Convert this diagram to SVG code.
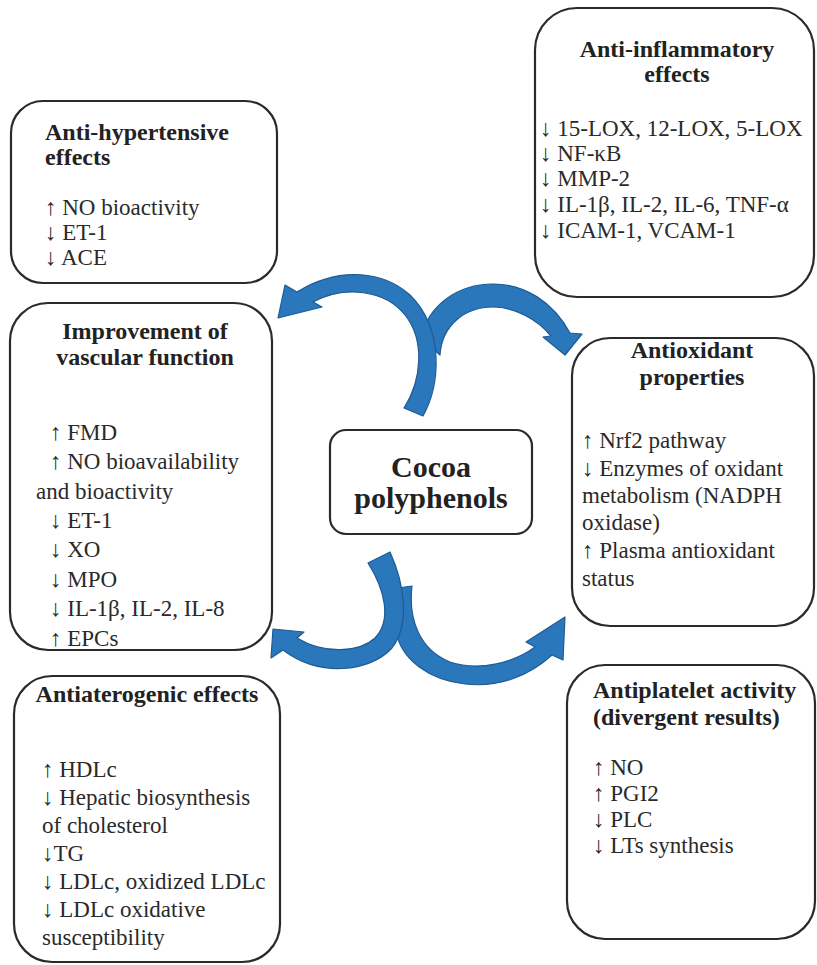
<svg xmlns="http://www.w3.org/2000/svg" width="817" height="965" viewBox="0 0 817 965">
<style>
.box{fill:#fff;stroke:#2a2a2a;stroke-width:2.2}
.t{font-family:"Liberation Serif","Times New Roman",serif;font-size:24px;font-weight:bold;fill:#222}
.b{font-family:"Liberation Serif","Times New Roman",serif;font-size:23px;fill:#2a2a2a}
.c{text-anchor:middle}
.arr{fill:#2a78bb;stroke:#1d5b95;stroke-width:1.2;stroke-linejoin:round}
</style>
<rect width="817" height="965" fill="#fff"/>
<g id="connectors">
<path class="arr" d="M 440,355 C 442,325 465,307 493,307 C 515,307 538,320 551,336 L 543,337 L 565,355 L 582,334 L 570,333 C 553,302 525,284 493,284 C 458,284 428,305 421,338 Z"/>
<path class="arr" d="M 404,408 L 423,416 C 440,385 445,330 410,295 C 385,272 340,265 297,292 L 285,285 L 278,318 L 322,307 L 313,302 C 345,285 385,290 405,315 C 425,340 422,380 404,408 Z"/>
<path class="arr" d="M 398,588 L 412,586 C 408,620 420,650 450,662 C 480,672 515,662 535,647 L 526,642 L 565,617 L 563,660 L 552,655 C 530,675 500,688 465,684 C 430,680 400,660 396,630 Z"/>
<path class="arr" d="M 368,563 L 390,552 C 405,585 410,625 392,648 C 370,672 320,678 283,650 L 271,658 L 273,629 L 304,632 L 297,638 C 325,655 360,652 375,638 C 392,620 385,590 368,563 Z"/>
</g>
<g id="anti-hypertensive">
<rect class="box" x="11" y="101" width="266" height="182" rx="32"/>
<text class="t" x="45" y="140">Anti-hypertensive</text>
<text class="t" x="45" y="165">effects</text>
<text class="b" x="45" y="215">↑ NO bioactivity</text>
<text class="b" x="45" y="240">↓ ET-1</text>
<text class="b" x="45" y="265">↓ ACE</text>
</g>
<g id="anti-inflammatory">
<rect class="box" x="535" y="8" width="279" height="289" rx="42"/>
<text class="t c" x="677" y="57">Anti-inflammatory</text>
<text class="t c" x="677" y="82">effects</text>
<text class="b" x="540" y="136">↓ 15-LOX, 12-LOX, 5-LOX</text>
<text class="b" x="540" y="161">↓ NF-κB</text>
<text class="b" x="540" y="186">↓ MMP-2</text>
<text class="b" x="540" y="212">↓  IL-1β, IL-2, IL-6, TNF-α</text>
<text class="b" x="540" y="238">↓ ICAM-1, VCAM-1</text>
</g>
<g id="vascular-function">
<rect class="box" x="10" y="303" width="262" height="347" rx="38"/>
<text class="t c" x="145" y="339">Improvement of</text>
<text class="t c" x="145" y="365">vascular function</text>
<text class="b" x="50" y="440">↑ FMD</text>
<text class="b" x="50" y="469">↑ NO bioavailability</text>
<text class="b" x="36" y="499">and bioactivity</text>
<text class="b" x="50" y="528">↓ ET-1</text>
<text class="b" x="50" y="557">↓ XO</text>
<text class="b" x="50" y="587">↓ MPO</text>
<text class="b" x="50" y="616">↓ IL-1β, IL-2, IL-8</text>
<text class="b" x="50" y="646">↑ EPCs</text>
</g>
<g id="cocoa-polyphenols">
<rect class="box" x="330" y="430" width="202" height="104" rx="16"/>
<text class="t c" x="431" y="477" style="font-size:30px">Cocoa</text>
<text class="t c" x="431" y="508" style="font-size:30px">polyphenols</text>
</g>
<g id="antioxidant">
<rect class="box" x="572" y="338" width="242" height="288" rx="38"/>
<text class="t c" x="692" y="358">Antioxidant</text>
<text class="t c" x="692" y="385">properties</text>
<text class="b" x="582" y="448">↑ Nrf2 pathway</text>
<text class="b" x="582" y="476">↓ Enzymes of oxidant</text>
<text class="b" x="582" y="503">metabolism (NADPH</text>
<text class="b" x="582" y="530">oxidase)</text>
<text class="b" x="582" y="558">↑ Plasma antioxidant</text>
<text class="b" x="582" y="586">status</text>
</g>
<g id="antiaterogenic">
<rect class="box" x="14" y="676" width="266" height="286" rx="38"/>
<text class="t c" x="147" y="702">Antiaterogenic effects</text>
<text class="b" x="42" y="777">↑ HDLc</text>
<text class="b" x="42" y="805">↓ Hepatic biosynthesis</text>
<text class="b" x="42" y="833">of cholesterol</text>
<text class="b" x="42" y="861">↓TG</text>
<text class="b" x="42" y="889">↓ LDLc, oxidized LDLc</text>
<text class="b" x="42" y="917">↓ LDLc oxidative</text>
<text class="b" x="42" y="945">susceptibility</text>
</g>
<g id="antiplatelet">
<rect class="box" x="567" y="665" width="248" height="274" rx="38"/>
<text class="t" x="593" y="698">Antiplatelet activity</text>
<text class="t" x="593" y="725">(divergent results)</text>
<text class="b" x="593" y="775">↑ NO</text>
<text class="b" x="593" y="801">↑ PGI2</text>
<text class="b" x="593" y="827">↓ PLC</text>
<text class="b" x="593" y="853">↓ LTs synthesis</text>
</g>
</svg>
